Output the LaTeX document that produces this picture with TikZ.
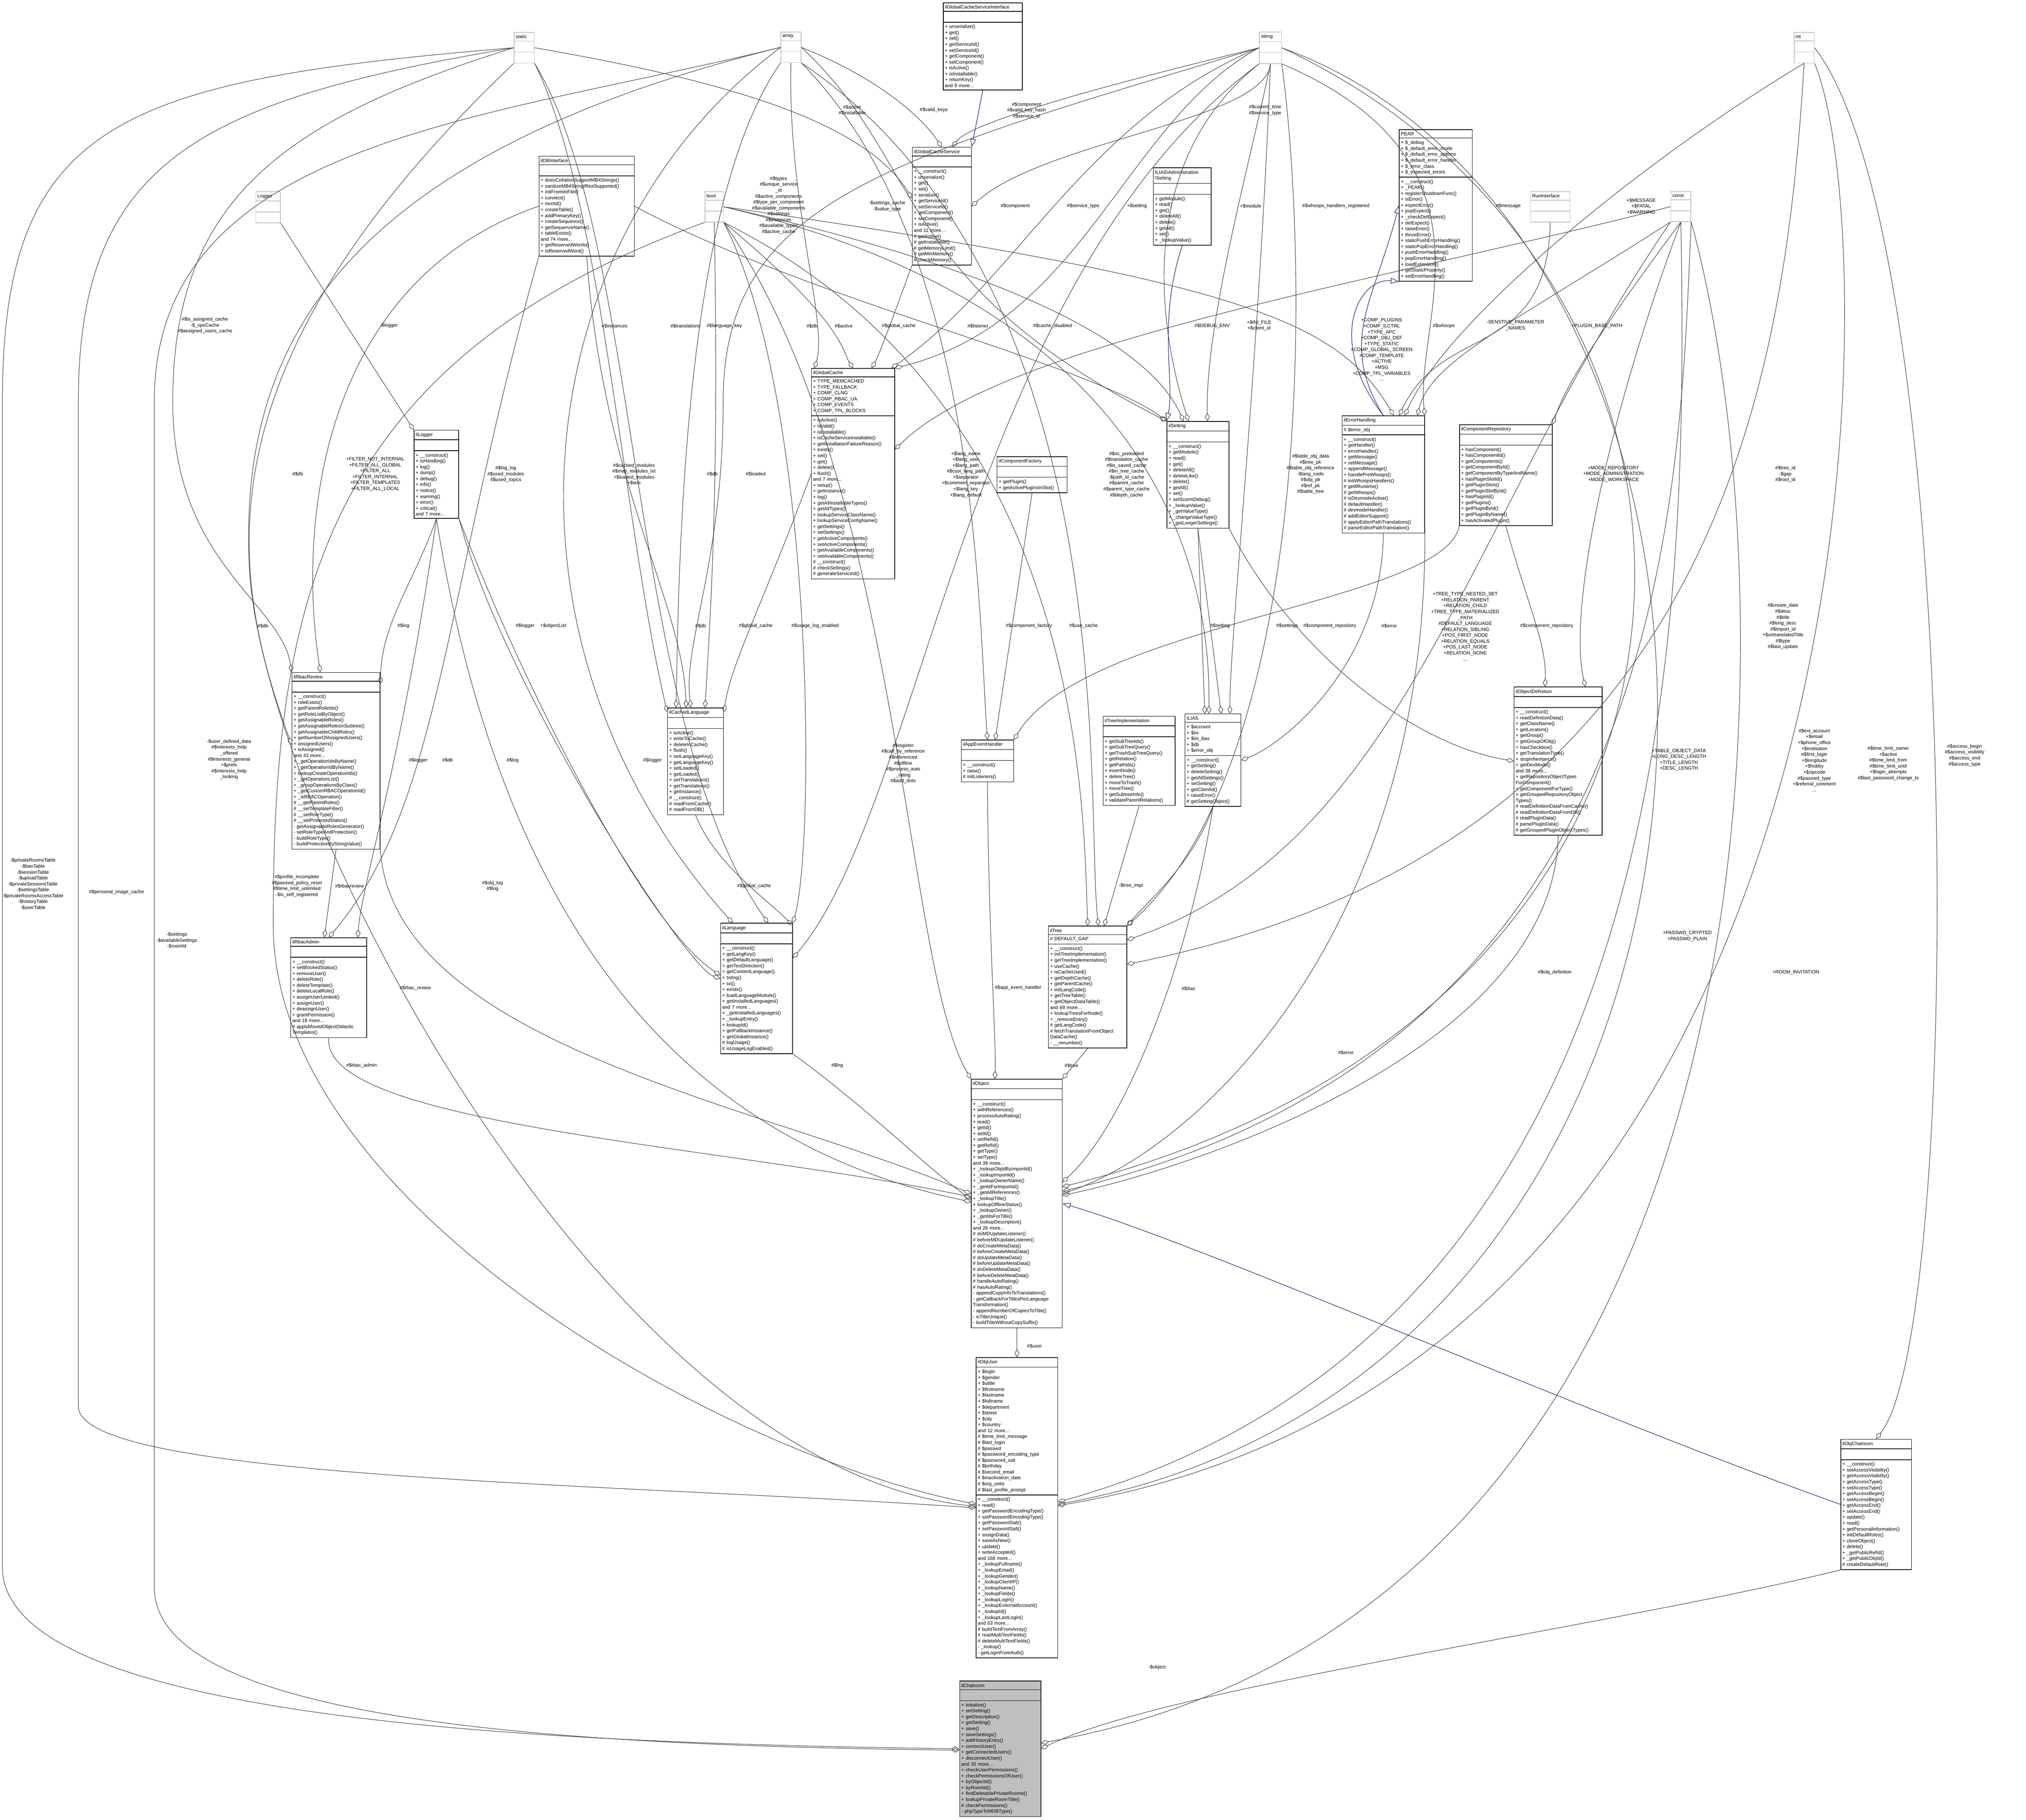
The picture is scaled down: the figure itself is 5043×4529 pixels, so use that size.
\documentclass[tikz,border=0pt]{standalone}
\usepackage{fontspec}
\setmainfont{Liberation Sans}
\usetikzlibrary{shapes.multipart,arrows.meta}
\definecolor{edgegray}{HTML}{404040}
\definecolor{inhblue}{HTML}{191970}
\definecolor{typegray}{HTML}{BFBFBF}
\newcommand{\dgfont}{\fontsize{3.4}{4.18}\selectfont}
\tikzset{
  cls/.style={draw=black,line width=0.45pt,rectangle split,rectangle split parts=3,
    rectangle split part align={center,left,left},anchor=north west,
    inner xsep=0.04cm,inner ysep=0.055cm,font=\dgfont},
  typ/.style={cls,draw=typegray,rectangle split part align={center,center,center}},
  agg/.style={draw=edgegray,line width=0.35pt,-{Diamond[open,length=0.2cm,width=0.12cm]}},
  inh/.style={draw=inhblue,line width=0.35pt,-{Triangle[open,length=0.2cm,width=0.14cm]}},
  lbl/.style={font=\dgfont,align=center,inner sep=0pt}
}
\begin{document}
\begin{tikzpicture}[x=0.01cm,y=0.01cm]
\useasboundingbox (0,0) rectangle (5043,-4529);
% type boxes
\node[typ,text width=0.42cm] (static) at (1279,-80) {static\nodepart{two}\strut\nodepart{three}\strut};
\node[typ,text width=0.42cm] (array) at (1943,-79) {array\nodepart{two}\strut\nodepart{three}\strut};
\node[typ,text width=0.47cm] (string) at (3134,-79) {string\nodepart{two}\strut\nodepart{three}\strut};
\node[typ,text width=0.42cm] (int) at (4465,-80) {int\nodepart{two}\strut\nodepart{three}\strut};
\node[typ,text width=0.38cm] (bool) at (1754,-476) {bool\nodepart{two}\strut\nodepart{three}\strut};
\node[typ,text width=0.42cm] (const) at (4158,-476) {const\nodepart{two}\strut\nodepart{three}\strut};
\node[typ,text width=0.53cm] (Logger) at (636,-476) {Logger\nodepart{two}\strut\nodepart{three}\strut};
\node[typ,text width=0.90cm] (RunInterface) at (3809,-476) {RunInterface\nodepart{two}\strut\nodepart{three}\strut};
% classes
\node[cls,text width=1.89cm] (ilGlobalCacheServiceInterface) at (2347,-6) {ilGlobalCacheServiceInterface\nodepart{two}\strut\nodepart{three}+ unserialize()\\+ get()\\+ set()\\+ getServiceId()\\+ setServiceId()\\+ getComponent()\\+ setComponent()\\+ isActive()\\+ isInstallable()\\+ returnKey()\\and 9 more...};
\node[cls,text width=2.29cm] (ilDBInterface) at (1341,-388) {ilDBInterface\nodepart{two}\strut\nodepart{three}+ doesCollationSupportMB4Strings()\\+ sanitizeMB4StringIfNotSupported()\\+ initFromIniFile()\\+ connect()\\+ nextId()\\+ createTable()\\+ addPrimaryKey()\\+ createSequence()\\+ getSequenceName()\\+ tableExists()\\and 74 more...\\+ getReservedWords()\\+ isReservedWord()};
\node[cls,text width=1.39cm] (ilGlobalCacheService) at (2270,-366) {ilGlobalCacheService\nodepart{two}\strut\nodepart{three}+ \_\_construct()\\+ unserialize()\\+ get()\\+ set()\\+ serialize()\\+ getServiceId()\\+ setServiceId()\\+ getComponent()\\+ setComponent()\\+ isActive()\\and 11 more...\\\# getActive()\\\# getInstallable()\\\# getMemoryLimit()\\\# getMinMemory()\\\# checkMemory()};
\node[cls,text width=1.36cm] (ilAdminSetting) at (2870,-417) {ILIAS\textbackslash Administration\\\textbackslash Setting\nodepart{two}\strut\nodepart{three}+ getModule()\\+ read()\\+ get()\\+ deleteAll()\\+ delete()\\+ getAll()\\+ set()\\+ \_lookupValue()};
\node[cls,text width=1.74cm] (PEAR) at (3482,-322) {PEAR\nodepart{two}+ \$\_debug\\+ \$\_default\_error\_mode\\+ \$\_default\_error\_options\\+ \$\_default\_error\_handler\\+ \$\_error\_class\\+ \$\_expected\_errors\nodepart{three}+ \_\_construct()\\+ \_PEAR()\\+ registerShutdownFunc()\\+ isError()\\+ expectError()\\+ popExpect()\\+ \_checkDelExpect()\\+ delExpect()\\+ raiseError()\\+ throwError()\\+ staticPushErrorHandling()\\+ staticPopErrorHandling()\\+ pushErrorHandling()\\+ popErrorHandling()\\+ loadExtension()\\+ getStaticProperty()\\+ setErrorHandling()};
\node[cls,text width=1.99cm] (ilGlobalCache) at (2019,-916) {ilGlobalCache\nodepart{two}+ TYPE\_MEMCACHED\\+ TYPE\_FALLBACK\\+ COMP\_CLNG\\+ COMP\_RBAC\_UA\\+ COMP\_EVENTS\\+ COMP\_TPL\_BLOCKS\nodepart{three}+ isActive()\\+ isValid()\\+ isInstallable()\\+ isCacheServiceInstallable()\\+ getInstallationFailureReason()\\+ exists()\\+ set()\\+ get()\\+ delete()\\+ flush()\\and 7 more...\\+ setup()\\+ getInstance()\\+ log()\\+ getAllInstallableTypes()\\+ getAllTypes()\\+ lookupServiceClassName()\\+ lookupServiceConfigName()\\+ getSettings()\\+ setSettings()\\+ getActiveComponents()\\+ setActiveComponents()\\+ getAvailableComponents()\\+ setAvailableComponents()\\\# \_\_construct()\\\# checkSettings()\\\# generateServiceId()};
\node[cls,text width=1.66cm] (ilComponentFactory) at (2481,-1136) {ilComponentFactory\nodepart{two}\strut\nodepart{three}+ getPlugin()\\+ getActivePluginsInSlot()};
\node[cls,text width=1.46cm] (ilSetting) at (2904,-1048) {ilSetting\nodepart{two}\strut\nodepart{three}+ \_\_construct()\\+ getModule()\\+ read()\\+ get()\\+ deleteAll()\\+ deleteLike()\\+ delete()\\+ getAll()\\+ set()\\+ setScormDebug()\\+ \_lookupValue()\\+ \_getValueType()\\+ \_changeValueType()\\+ \_getLongerSettings()};
\node[cls,text width=1.97cm] (ilErrorHandling) at (3340,-1034) {ilErrorHandling\nodepart{two}\# \$error\_obj\nodepart{three}+ \_\_construct()\\+ getHandler()\\+ errorHandler()\\+ getMessage()\\+ setMessage()\\+ appendMessage()\\+ handlePreWhoops()\\\# initWhoopsHandlers()\\\# getIlRuntime()\\\# getWhoops()\\\# isDevmodeActive()\\\# defaultHandler()\\\# devmodeHandler()\\\# addEditorSupport()\\\# applyEditorPathTranslations()\\\# parseEditorPathTranslation()};
\node[cls,text width=2.23cm] (ilComponentRepository) at (3632,-1056) {ilComponentRepository\nodepart{two}\strut\nodepart{three}+ hasComponent()\\+ hasComponentId()\\+ getComponents()\\+ getComponentById()\\+ getComponentByTypeAndName()\\+ hasPluginSlotId()\\+ getPluginSlots()\\+ getPluginSlotById()\\+ hasPluginId()\\+ getPlugins()\\+ getPluginById()\\+ getPluginByName()\\+ hasActivatedPlugin()};
\node[cls,text width=1.03cm] (ilLogger) at (1030,-1070) {ilLogger\nodepart{two}\strut\nodepart{three}+ \_\_construct()\\+ isHandling()\\+ log()\\+ dump()\\+ debug()\\+ info()\\+ notice()\\+ warning()\\+ error()\\+ critical()\\and 7 more...};
\node[cls,text width=2.11cm] (ilRbacReview) at (726,-1673) {ilRbacReview\nodepart{two}\strut\nodepart{three}+ \_\_construct()\\+ roleExists()\\+ getParentRoleIds()\\+ getRoleListByObject()\\+ getAssignableRoles()\\+ getAssignableRolesInSubtree()\\+ getAssignableChildRoles()\\+ getNumberOfAssignedUsers()\\+ assignedUsers()\\+ isAssigned()\\and 43 more...\\+ \_getOperationIdsByName()\\+ \_getOperationIdByName()\\+ lookupCreateOperationIds()\\+ \_getOperationList()\\+ \_groupOperationsByClass()\\+ \_getCustomRBACOperationId()\\+ \_isRBACOperation()\\\# \_\_getParentRoles()\\\# \_\_setTemplateFilter()\\\# \_\_setRoleType()\\\# \_\_setProtectedStatus()\\- getAssignableRolesGenerator()\\- setRoleTypeAndProtection()\\- buildRoleType()\\- buildProtectionByStringValue()};
\node[cls,text width=1.31cm] (ilCachedLanguage) at (1661,-1761) {ilCachedLanguage\nodepart{two}\strut\nodepart{three}+ isActive()\\+ writeToCache()\\+ deleteInCache()\\+ flush()\\+ setLanguageKey()\\+ getLanguageKey()\\+ setLoaded()\\+ getLoaded()\\+ setTranslations()\\+ getTranslations()\\+ getInstance()\\\# \_\_construct()\\\# readFromCache()\\\# readFromDB()};
\node[cls,text width=2.11cm] (ilObjectDefinition) at (3768,-1709) {ilObjectDefinition\nodepart{two}\strut\nodepart{three}+ \_\_construct()\\+ readDefinitionData()\\+ getClassName()\\+ getLocation()\\+ getGroup()\\+ getGroupOfObj()\\+ hasCheckbox()\\+ getTranslationType()\\+ stopInheritance()\\+ getDevMode()\\and 38 more...\\+ getRepositoryObjectTypes\\ForComponent()\\+ getComponentForType()\\+ getGroupedRepositoryObject\\Types()\\\# readDefinitionDataFromCache()\\\# readDefinitionDataFromDB()\\\# readPluginData()\\\# parsePluginData()\\\# getGroupedPluginObjectTypes()};
\node[cls,text width=1.71cm] (ilTreeImplementation) at (2745,-1782) {ilTreeImplementation\nodepart{two}\strut\nodepart{three}+ getSubTreeIds()\\+ getSubTreeQuery()\\+ getTrashSubTreeQuery()\\+ getRelation()\\+ getPathIds()\\+ insertNode()\\+ deleteTree()\\+ moveToTrash()\\+ moveTree()\\+ getSubtreeInfo()\\+ validateParentRelations()};
\node[cls,text width=1.31cm] (ILIAS) at (2949,-1776) {ILIAS\nodepart{two}+ \$account\\+ \$ini\\+ \$ini\_ilias\\+ \$db\\+ \$error\_obj\nodepart{three}+ \_\_construct()\\+ getSetting()\\+ deleteSetting()\\+ getAllSettings()\\+ setSetting()\\+ getClientId()\\+ raiseError()\\\# getSettingObject()};
\node[cls,text width=1.22cm] (ilAppEventHandler) at (2392,-1841) {ilAppEventHandler\nodepart{two}\strut\nodepart{three}+ \_\_construct()\\+ raise()\\\# initListeners()};
\node[cls,text width=1.87cm] (ilTree) at (2609,-2304) {ilTree\nodepart{two}\# DEFAULT\_GAP\nodepart{three}+ \_\_construct()\\+ initTreeImplementation()\\+ getTreeImplementation()\\+ useCache()\\+ isCacheUsed()\\+ getDepthCache()\\+ getParentCache()\\+ initLangCode()\\+ getTreeTable()\\+ getObjectDataTable()\\and 69 more...\\+ lookupTreesForNode()\\+ \_removeEntry()\\\# getLangCode()\\\# fetchTranslationFromObject\\DataCache()\\- \_\_renumber()};
\node[cls,text width=1.81cm] (ilRbacAdmin) at (723,-2333) {ilRbacAdmin\nodepart{two}\strut\nodepart{three}+ \_\_construct()\\+ setBlockedStatus()\\+ removeUser()\\+ deleteRole()\\+ deleteTemplate()\\+ deleteLocalRole()\\+ assignUserLimited()\\+ assignUser()\\+ deassignUser()\\+ grantPermission()\\and 18 more...\\\# applyMovedObjectDidactic\\Templates()};
\node[cls,text width=1.71cm] (ilLanguage) at (1793,-2297) {ilLanguage\nodepart{two}\strut\nodepart{three}+ \_\_construct()\\+ getLangKey()\\+ getDefaultLanguage()\\+ getTextDirection()\\+ getContentLanguage()\\+ txtlng()\\+ txt()\\+ exists()\\+ loadLanguageModule()\\+ getInstalledLanguages()\\and 7 more...\\+ \_getInstalledLanguages()\\+ \_lookupEntry()\\+ lookupId()\\+ getFallbackInstance()\\+ getGlobalInstance()\\\# logUsage()\\\# isUsageLogEnabled()};
\node[cls,text width=2.18cm] (ilObject) at (2417,-2685) {ilObject\nodepart{two}\strut\nodepart{three}+ \_\_construct()\\+ withReferences()\\+ processAutoRating()\\+ read()\\+ getId()\\+ setId()\\+ setRefId()\\+ getRefId()\\+ getType()\\+ setType()\\and 39 more...\\+ \_lookupObjIdByImportId()\\+ \_lookupImportId()\\+ \_lookupOwnerName()\\+ \_getIdForImportId()\\+ \_getAllReferences()\\+ \_lookupTitle()\\+ lookupOfflineStatus()\\+ \_lookupOwner()\\+ \_getIdsForTitle()\\+ \_lookupDescription()\\and 26 more...\\\# doMDUpdateListener()\\\# beforeMDUpdateListener()\\\# doCreateMetaData()\\\# beforeCreateMetaData()\\\# doUpdateMetaData()\\\# beforeUpdateMetaData()\\\# doDeleteMetaData()\\\# beforeDeleteMetaData()\\\# handleAutoRating()\\\# hasAutoRating()\\- appendCopyInfoToTranslations()\\- getCallbackForTitlesPerLanguage\\Transformation()\\- appendNumberOfCopiesToTitle()\\- isTitleUnique()\\- buildTitleWithoutCopySuffix()};
\node[cls,text width=1.95cm] (ilObjUser) at (2429,-3378) {ilObjUser\nodepart{two}+ \$login\\+ \$gender\\+ \$utitle\\+ \$firstname\\+ \$lastname\\+ \$fullname\\+ \$department\\+ \$street\\+ \$city\\+ \$country\\and 12 more...\\\# \$time\_limit\_message\\\# \$last\_login\\\# \$passwd\\\# \$password\_encoding\_type\\\# \$password\_salt\\\# \$birthday\\\# \$second\_email\\\# \$inactivation\_date\\\# \$org\_units\\\# \$last\_profile\_prompt\nodepart{three}+ \_\_construct()\\+ read()\\+ getPasswordEncodingType()\\+ setPasswordEncodingType()\\+ getPasswordSalt()\\+ setPasswordSalt()\\+ assignData()\\+ saveAsNew()\\+ update()\\+ writeAccepted()\\and 168 more...\\+ \_lookupFullname()\\+ \_lookupEmail()\\+ \_lookupGender()\\+ \_lookupClientIP()\\+ \_lookupName()\\+ \_lookupFields()\\+ \_lookupLogin()\\+ \_lookupExternalAccount()\\+ \_lookupId()\\+ \_lookupLastLogin()\\and 63 more...\\\# buildTextFromArray()\\\# readMultiTextFields()\\\# deleteMultiTextFields()\\- \_lookup()\\- getLoginFromAuth()};
\node[cls,text width=1.68cm] (ilObjChatroom) at (4581,-3581) {ilObjChatroom\nodepart{two}\strut\nodepart{three}+ \_\_construct()\\+ setAccessVisibility()\\+ getAccessVisibility()\\+ getAccessType()\\+ setAccessType()\\+ getAccessBegin()\\+ setAccessBegin()\\+ getAccessEnd()\\+ setAccessEnd()\\+ update()\\+ read()\\+ getPersonalInformation()\\+ initDefaultRoles()\\+ cloneObject()\\+ delete()\\+ \_getPublicRefId()\\+ \_getPublicObjId()\\\# createDefaultRole()};
\node[cls,fill=typegray,text width=1.94cm] (ilChatroom) at (2388,-4183) {ilChatroom\nodepart{two}\strut\nodepart{three}+ initialize()\\+ setSetting()\\+ getDescription()\\+ getSetting()\\+ save()\\+ saveSettings()\\+ addHistoryEntry()\\+ connectUser()\\+ getConnectedUsers()\\+ disconnectUser()\\and 35 more...\\+ checkUserPermissions()\\+ checkPermissionsOfUser()\\+ byObjectId()\\+ byRoomId()\\+ findDeletablePrivateRooms()\\+ lookupPrivateRoomTitle()\\\# checkPermissions()\\- phpTypeToMDBType()};
% inheritance
\draw[inh] (ilGlobalCacheServiceInterface.south) -- (ilGlobalCacheService.north east);
\draw[inh] (ilAdminSetting.south) .. controls (2880,-800) and (2925,-950) .. (ilSetting.north west);
\draw[inh] (ilErrorHandling.north) .. controls (3300,-850) and (3380,-690) .. (PEAR.south west);
\draw[inh] (ilErrorHandling.north) .. controls (3330,-850) and (3420,-750) .. (PEAR.west);
\draw[inh] (ilObjChatroom.west) .. controls (3900,-3500) and (3000,-3100) .. (ilObject.east);
% left side
\draw[agg] (static.west) .. controls (300,-200) and (6,-300) .. (6,-1000) -- (6,-3900) .. controls (6,-4300) and (1500,-4340) .. (ilChatroom.west);
\draw[agg] (static.west) .. controls (500,-250) and (195,-400) .. (195,-1000) -- (195,-3500) .. controls (195,-3680) and (1500,-3690) .. (ilObjUser.west);
\draw[agg] (array.west) .. controls (1200,-300) and (384,-350) .. (384,-1000) -- (384,-3950) .. controls (384,-4300) and (1500,-4345) .. (ilChatroom.182);
\draw[agg] (static.west) .. controls (700,-300) and (430,-500) .. (430,-1000) .. controls (430,-1400) and (700,-1500) .. (ilRbacReview.north west);
\draw[agg] (array.west) .. controls (800,-400) and (600,-900) .. (620,-1400) .. controls (640,-2000) and (1500,-3650) .. (ilObjUser.178);
\draw[agg] (Logger.south east) -- (ilLogger.north west);
\draw[agg] (ilDBInterface.west) .. controls (800,-700) and (740,-1300) .. (ilRbacReview.100);
\draw[agg] (static.south west) .. controls (500,-900) and (560,-1400) .. (ilRbacReview.160);
\draw[agg] (ilLogger.south) .. controls (1030,-1450) and (950,-1550) .. (ilRbacReview.60);
\draw[agg] (ilLogger.south) .. controls (1000,-1900) and (900,-2200) .. (ilRbacAdmin.60);
\draw[agg] (ilDBInterface.south west) .. controls (1100,-1500) and (1100,-2000) .. (ilRbacAdmin.90);
\draw[agg] (ilRbacReview.south) -- (ilRbacAdmin.95);
\draw[agg] (bool.south west) .. controls (800,-900) and (680,-1500) .. (680,-2300) .. controls (680,-3000) and (1800,-3620) .. (ilObjUser.175);
\draw[agg] (ilRbacReview.south east) .. controls (980,-2600) and (1900,-2750) .. (ilObject.168);
\draw[agg] (ilRbacAdmin.south) .. controls (800,-2800) and (1800,-2850) .. (ilObject.172);
\draw[agg] (ilLanguage.south east) .. controls (2150,-2750) and (2300,-2900) .. (ilObject.175);
\draw[agg] (ilLogger.south) .. controls (1200,-2000) and (1500,-2800) .. (ilObject.178);
\draw[agg] (ilLogger.south east) .. controls (1300,-1700) and (1600,-2300) .. (ilLanguage.160);
\draw[agg] (ilLogger.south east) .. controls (1250,-1700) and (1700,-2400) .. (ilLanguage.165);
\draw[agg] (ilDBInterface.south) .. controls (1500,-1200) and (1700,-1500) .. (ilCachedLanguage.100);
\draw[agg] (bool.south) .. controls (1790,-1200) and (1770,-1500) .. (ilCachedLanguage.80);
\draw[agg] (ilGlobalCache.west) .. controls (1900,-1500) and (1820,-1650) .. (ilCachedLanguage.60);
\draw[agg] (ilCachedLanguage.south) .. controls (1780,-2150) and (1900,-2230) .. (ilLanguage.60);
\draw[agg] (array.west) .. controls (1300,-600) and (1200,-1600) .. (ilLanguage.110);
\draw[agg] (static.south east) .. controls (1600,-600) and (1560,-1800) .. (ilLanguage.80);
\draw[agg] (static.south east) .. controls (1500,-500) and (1550,-1300) .. (ilCachedLanguage.120);
\draw[agg] (array.south west) .. controls (1700,-500) and (1690,-1400) .. (ilCachedLanguage.110);
\draw[agg] (string.west) .. controls (2200,-400) and (1800,-500) .. (1800,-1000) .. controls (1800,-1400) and (1700,-1600) .. (ilCachedLanguage.95);
% top area
\draw[agg] (array.east) .. controls (2200,-200) and (2300,-300) .. (ilGlobalCacheService.north);
\draw[agg] (static.east) .. controls (1800,-200) and (2150,-300) .. (ilGlobalCacheService.165);
\draw[agg] (string.west) .. controls (2800,-200) and (2420,-300) .. (ilGlobalCacheService.80);
\draw[agg] (string.south) .. controls (3150,-300) and (2600,-350) .. (ilGlobalCacheService.east);
\draw[agg] (array.south) .. controls (1960,-500) and (2060,-800) .. (ilGlobalCache.110);
\draw[agg] (array.east) .. controls (2300,-400) and (2220,-700) .. (ilSetting.north west);
\draw[agg] (string.west) .. controls (2700,-300) and (2530,-700) .. (ilGlobalCache.70);
\draw[agg] (string.west) .. controls (2800,-300) and (2700,-800) .. (ilGlobalCache.north east);
\draw[agg] (ilGlobalCacheService.south west) .. controls (2237,-750) and (2190,-880) .. (ilGlobalCache.80);
\draw[agg] (ilDBInterface.east) .. controls (2021,-750) and (2700,-900) .. (ilSetting.120);
\draw[agg] (bool.south east) .. controls (2100,-800) and (2100,-880) .. (ilGlobalCache.90);
\draw[agg] (array.south east) .. controls (2434,-600) and (2434,-1500) .. (ilAppEventHandler.north);
\draw[agg] (bool.east) .. controls (2636,-700) and (2880,-900) .. (ilSetting.105);
\draw[agg] (string.south west) .. controls (2830,-400) and (2880,-800) .. (ilSetting.100);
\draw[agg] (string.south) .. controls (3113,-400) and (3000,-800) .. (ilSetting.80);
\draw[agg] (bool.east) .. controls (3100,-700) and (3330,-800) .. (ilErrorHandling.80);
\draw[agg] (string.south east) .. controls (3754,-400) and (3520,-800) .. (ilErrorHandling.north east);
\draw[agg] (int.south) .. controls (4085,-400) and (3600,-800) .. (ilErrorHandling.70);
\draw[agg] (const.west) .. controls (3439,-700) and (2500,-850) .. (ilGlobalCache.30);
\draw[agg] (RunInterface.south) .. controls (3850,-900) and (3594,-800) .. (ilErrorHandling.75);
\draw[agg] (const.south west) .. controls (3772,-800) and (3560,-900) .. (ilErrorHandling.60);
\draw[agg] (const.south) .. controls (4000,-800) and (3900,-950) .. (ilComponentRepository.north east);
\draw[agg] (bool.east) .. controls (3017,-800) and (3010,-1600) .. (ILIAS.95);
\draw[agg] (string.south) .. controls (3134,-900) and (3060,-1600) .. (ILIAS.70);
% middle
\draw[agg] (ilComponentFactory.south) -- (ilAppEventHandler.70);
\draw[agg] (bool.south east) .. controls (2697,-1000) and (2697,-2000) .. (ilTree.north);
\draw[agg] (array.south east) .. controls (2804,-700) and (2700,-2000) .. (ilTree.80);
\draw[agg] (ilSetting.south) -- (ILIAS.100);
\draw[agg] (ilSetting.south) -- (ILIAS.80);
\draw[agg] (ilSetting.south east) .. controls (3204,-1600) and (3500,-1850) .. (ilObjectDefinition.west);
\draw[agg] (ilComponentRepository.south west) .. controls (3600,-1500) and (2700,-1550) .. (ilAppEventHandler.north east);
\draw[agg] (ilErrorHandling.south) .. controls (3440,-1650) and (3200,-1850) .. (ILIAS.east);
\draw[agg] (string.south east) .. controls (3262,-700) and (3262,-1900) .. (ilTree.north east);
\draw[agg] (int.south) .. controls (4444,-900) and (4300,-2100) .. (ilTree.30);
\draw[agg] (const.south west) .. controls (3647,-1300) and (3500,-2100) .. (ilTree.50);
\draw[agg] (ilComponentRepository.south) .. controls (3800,-1500) and (3850,-1600) .. (ilObjectDefinition.100);
\draw[agg] (const.south) .. controls (4016,-1000) and (3900,-1500) .. (ilObjectDefinition.70);
\draw[agg] (string.east) .. controls (4438,-700) and (4438,-2500) .. (ilObject.20);
\draw[agg] (const.south east) .. controls (4179,-1200) and (4179,-2600) .. (ilObject.15);
\draw[agg] (string.east) .. controls (4516,-600) and (4516,-3400) .. (ilObjUser.5);
\draw[agg] (int.south east) .. controls (4700,-600) and (4700,-3400) .. (ilObjUser.3);
\draw[agg] (int.east) .. controls (4890,-600) and (4890,-3300) .. (ilObjChatroom.north);
\draw[agg] (const.south east) .. controls (4470,-1500) and (4470,-4000) .. (ilChatroom.8);
\draw[agg] (const.south) .. controls (4200,-1500) and (4200,-3300) .. (ilObjUser.8);
\draw[agg] (ilObjectDefinition.south) .. controls (3870,-2600) and (3000,-2900) .. (ilObject.10);
\draw[agg] (ilErrorHandling.south east) .. controls (3550,-2300) and (3000,-2850) .. (ilObject.12);
\draw[agg] (ILIAS.south) .. controls (2958,-2400) and (2800,-2800) .. (ilObject.25);
\draw[agg] (ILIAS.south) .. controls (2970,-2150) and (2850,-2250) .. (ilTree.north east);
\draw[agg] (ilTreeImplementation.south) -- (ilTree.75);
\draw[agg] (ilTree.south) -- (ilObject.north east);
\draw[agg] (ilAppEventHandler.south) .. controls (2460,-2300) and (2480,-2600) .. (ilObject.100);
\draw[agg] (bool.south east) .. controls (2248,-1200) and (2248,-2400) .. (ilObject.north west);
\draw[agg] (bool.south east) .. controls (2029,-1000) and (2029,-2100) .. (ilLanguage.north east);
\draw[agg] (string.south west) .. controls (2404,-700) and (2300,-2000) .. (ilLanguage.40);
\draw[agg] (ilObject.south) -- (ilObjUser.north);
\draw[agg] (ilObjChatroom.south west) .. controls (4000,-4050) and (2900,-4200) .. (ilChatroom.east);
% labels
\node[lbl] (lRooms) at (82,-2200) {-\$privateRoomsTable\\-\$banTable\\-\$sessionTable\\-\$uploadTable\\-\$privateSessionsTable\\-\$settingsTable\\-\$privateRoomsAccessTable\\-\$historyTable\\-\$userTable};
\node[lbl] (lImage) at (290,-2220) {\#\$personal\_image\_cache};
\node[lbl] (lRoomSet) at (440,-2340) {-\$settings\\-\$availableSettings\\-\$roomId};
\node[lbl] (lAssigned) at (510,-810) {\#\$is\_assigned\_cache\\-\$\_opsCache\\\#\$assigned\_users\_cache};
\node[lbl] (lPrefs) at (570,-1890) {-\$user\_defined\_data\\\#\$interests\_help\\\_offered\\\#\$interests\_general\\+\$prefs\\\#\$interests\_help\\\_looking};
\node[lbl] (lLoggerA) at (968,-810) {-\$logger};
\node[lbl] (lDbA) at (741,-1180) {\#\$db};
\node[lbl] (lFilter) at (934,-1180) {+FILTER\_NOT\_INTERNAL\\+FILTER\_ALL\_GLOBAL\\+FILTER\_ALL\\+FILTER\_INTERNAL\\+FILTER\_TEMPLATES\\+FILTER\_ALL\_LOCAL};
\node[lbl] (lLngLog) at (1259,-1180) {\#\$lng\_log\\\#\$used\_modules\\\#\$used\_topics};
\node[lbl] (lCached) at (1578,-1180) {\#\$cached\_modules\\\#\$map\_modules\_txt\\+\$loaded\_modules\\+\$text};
\node[lbl] (lDbB) at (1773,-1180) {\#\$db};
\node[lbl] (lLoaded) at (1881,-1180) {\#\$loaded};
\node[lbl] (lDbC) at (654,-1558) {\#\$db};
\node[lbl] (lLogA) at (1004,-1558) {\#\$log};
\node[lbl] (lLoggerB) at (1307,-1558) {\#\$logger};
\node[lbl] (lObjList) at (1377,-1558) {+\$objectList};
\node[lbl] (lDbD) at (1744,-1558) {\#\$db};
\node[lbl] (lGcA) at (1881,-1558) {\#\$global\_cache};
\node[lbl] (lUsage) at (2029,-1558) {\#\$usage\_log\_enabled};
\node[lbl] (lLoggerC) at (1041,-1892) {\#\$logger};
\node[lbl] (lDbE) at (1114,-1892) {\#\$db};
\node[lbl] (lLogB) at (1276,-1892) {\#\$log};
\node[lbl] (lLoggerD) at (1624,-1892) {\#\$logger};
\node[lbl] (lProfile) at (739,-2205) {\#\$profile\_incomplete\\\#\$passwd\_policy\_reset\\\#\$time\_limit\_unlimited\\-\$is\_self\_registered};
\node[lbl] (lRbacrev) at (870,-2205) {\#\$rbacreview};
\node[lbl] (lObjLog) at (1226,-2205) {\#\$obj\_log\\\#\$log};
\node[lbl] (lGcB) at (1877,-2205) {\#\$global\_cache};
\node[lbl] (lRbacReview) at (1034,-2459) {\#\$rbac\_review};
\node[lbl] (lRbacAdmin) at (900,-2652) {\#\$rbac\_admin};
\node[lbl] (lLng) at (2084,-2652) {\#\$lng};
\node[lbl] (lInstances) at (1530,-811) {\#\$instances};
\node[lbl] (lTransl) at (1706,-811) {\#\$translations};
\node[lbl] (lLangKey) at (1803,-811) {\#\$language\_key};
\node[lbl] (lDbF) at (2021,-811) {\#\$db};
\node[lbl] (lActive) at (2100,-811) {\#\$active};
\node[lbl] (lGcC) at (2237,-811) {\#\$global\_cache};
\node[lbl] (lListener) at (2434,-811) {\#\$listener};
\node[lbl] (lCacheDis) at (2620,-811) {\#\$cache\_disabled};
\node[lbl] (lActInst) at (2121,-274) {\#\$active\\\#\$installable};
\node[lbl] (lValid) at (2324,-274) {\#\$valid\_keys};
\node[lbl] (lCompHash) at (2555,-275) {\#\$component\\\#\$valid\_key\_hash\\\#\$service\_id};
\node[lbl] (lCurTime) at (3149,-274) {\#\$current\_time\\\#\$service\_type};
\node[lbl] (lTypes) at (1938,-511) {\#\$types\\\#\$unique\_service\\\_id\\\#\$active\_components\\\#\$type\_per\_component\\\#\$available\_components\\\#\$settings\\\#\$instances\\\#\$available\_types\\\#\$active\_cache};
\node[lbl] (lSetCache) at (2208,-513) {-\$settings\_cache\\-\$value\_type};
\node[lbl] (lComponent) at (2527,-513) {\#\$component};
\node[lbl] (lSrvType) at (2696,-513) {\#\$service\_type};
\node[lbl] (lSettingA) at (2830,-513) {+\$setting};
\node[lbl] (lModule) at (3113,-513) {+\$module};
\node[lbl] (lWhoopsReg) at (3325,-513) {\#\$whoops\_handlers\_registered};
\node[lbl] (lMessage) at (3754,-513) {\#\$message};
\node[lbl] (lFatal) at (4085,-513) {+\$MESSAGE\\+\$FATAL\\+\$WARNING};
\node[lbl] (lDebug) at (3017,-811) {\#\$DEBUG\_ENV};
\node[lbl] (lIni) at (3134,-810) {+\$INI\_FILE\\+\$client\_id};
\node[lbl] (lComp) at (3439,-870) {+COMP\_PLUGINS\\+COMP\_ILCTRL\\+TYPE\_APC\\+COMP\_OBJ\_DEF\\+TYPE\_STATIC\\+COMP\_GLOBAL\_SCREEN\\+COMP\_TEMPLATE\\+ACTIVE\\+MSG\\+COMP\_TPL\_VARIABLES\\...};
\node[lbl] (lWhoops) at (3594,-811) {\#\$whoops};
\node[lbl] (lSensitive) at (3772,-810) {-SENSTIVE\_PARAMETER\\\_NAMES};
\node[lbl] (lPluginPath) at (3975,-811) {+PLUGIN\_BASE\_PATH};
\node[lbl] (lLang) at (2404,-1181) {+\$lang\_name\\+\$lang\_user\\+\$lang\_path\\\#\$cust\_lang\_path\\+\$separator\\+\$comment\_separator\\+\$lang\_key\\+\$lang\_default};
\node[lbl] (lOc) at (2804,-1181) {\#\$oc\_preloaded\\\#\$translation\_cache\\\#\$is\_saved\_cache\\\#\$in\_tree\_cache\\-\$path\_id\_cache\\\#\$parent\_cache\\\#\$parent\_type\_cache\\\#\$depth\_cache};
\node[lbl] (lTableObj) at (3262,-1180) {\#\$table\_obj\_data\\\#\$tree\_pk\\\#\$table\_obj\_reference\\-\$lang\_code\\\#\$obj\_pk\\\#\$ref\_pk\\\#\$table\_tree};
\node[lbl] (lMode) at (4016,-1180) {+MODE\_REPOSITORY\\+MODE\_ADMINISTRATION\\+MODE\_WORKSPACE};
\node[lbl] (lTreeId) at (4444,-1180) {\#\$tree\_id\\-\$gap\\\#\$root\_id};
\node[lbl] (lCompFac) at (2561,-1558) {\#\$component\_factory};
\node[lbl] (lUseCache) at (2697,-1558) {\#\$use\_cache};
\node[lbl] (lSettingB) at (3037,-1558) {\#\$setting};
\node[lbl] (lSettings) at (3204,-1558) {\#\$settings};
\node[lbl] (lCompRepA) at (3310,-1558) {\#\$component\_repository};
\node[lbl] (lErrorA) at (3458,-1558) {\#\$error};
\node[lbl] (lTreeType) at (3647,-1559) {+TREE\_TYPE\_NESTED\_SET\\+RELATION\_PARENT\\+RELATION\_CHILD\\+TREE\_TYPE\_MATERIALIZED\\\_PATH\\\#DEFAULT\_LANGUAGE\\+RELATION\_SIBLING\\+POS\_FIRST\_NODE\\+RELATION\_EQUALS\\+POS\_LAST\_NODE\\+RELATION\_NONE\\...};
\node[lbl] (lCompRepB) at (3850,-1558) {\#\$component\_repository};
\node[lbl] (lCreate) at (4438,-1559) {\#\$create\_date\\\#\$desc\\\#\$title\\\#\$long\_desc\\\#\$import\_id\\+\$untranslatedTitle\\\#\$type\\\#\$last\_update};
\node[lbl] (lRegister) at (2248,-1900) {\#\$register\\\#\$call\_by\_reference\\\#\$referenced\\\#\$offline\\\#\$process\_auto\\\_rating\\\#\$add\_dots};
\node[lbl] (lTableData) at (4179,-1891) {+TABLE\_OBJECT\_DATA\\+LONG\_DESC\_LENGTH\\+TITLE\_LENGTH\\+DESC\_LENGTH};
\node[lbl] (lExt) at (4516,-1892) {\#\$ext\_account\\+\$email\\+\$phone\_office\\+\$institution\\\#\$first\_login\\+\$longitude\\+\$hobby\\+\$zipcode\\\#\$passwd\_type\\+\$referral\_comment\\...};
\node[lbl] (lTimeLimit) at (4700,-1900) {\#\$time\_limit\_owner\\+\$active\\\#\$time\_limit\_from\\\#\$time\_limit\_until\\+\$login\_attempts\\\#\$last\_password\_change\_ts};
\node[lbl] (lAccess) at (4890,-1880) {\#\$access\_begin\\\#\$access\_visibility\\\#\$access\_end\\\#\$access\_type};
\node[lbl] (lTreeImpl) at (2815,-2204) {-\$tree\_impl};
\node[lbl] (lPasswd) at (4200,-2330) {+PASSWD\_CRYPTED\\+PASSWD\_PLAIN};
\node[lbl] (lObjDef) at (3870,-2420) {\#\$obj\_definition};
\node[lbl] (lInvite) at (4470,-2420) {+ROOM\_INVITATION};
\node[lbl] (lAppEvent) at (2534,-2458) {\#\$app\_event\_handler};
\node[lbl] (lIlias) at (2958,-2460) {\#\$ilias};
\node[lbl] (lErrorB) at (3350,-2620) {\#\$error};
\node[lbl] (lTree) at (2667,-2652) {\#\$tree};
\node[lbl] (lUser) at (2575,-3350) {\#\$user};
\node[lbl] (lObject) at (2880,-4150) {-\$object};
\end{tikzpicture}
\end{document}
